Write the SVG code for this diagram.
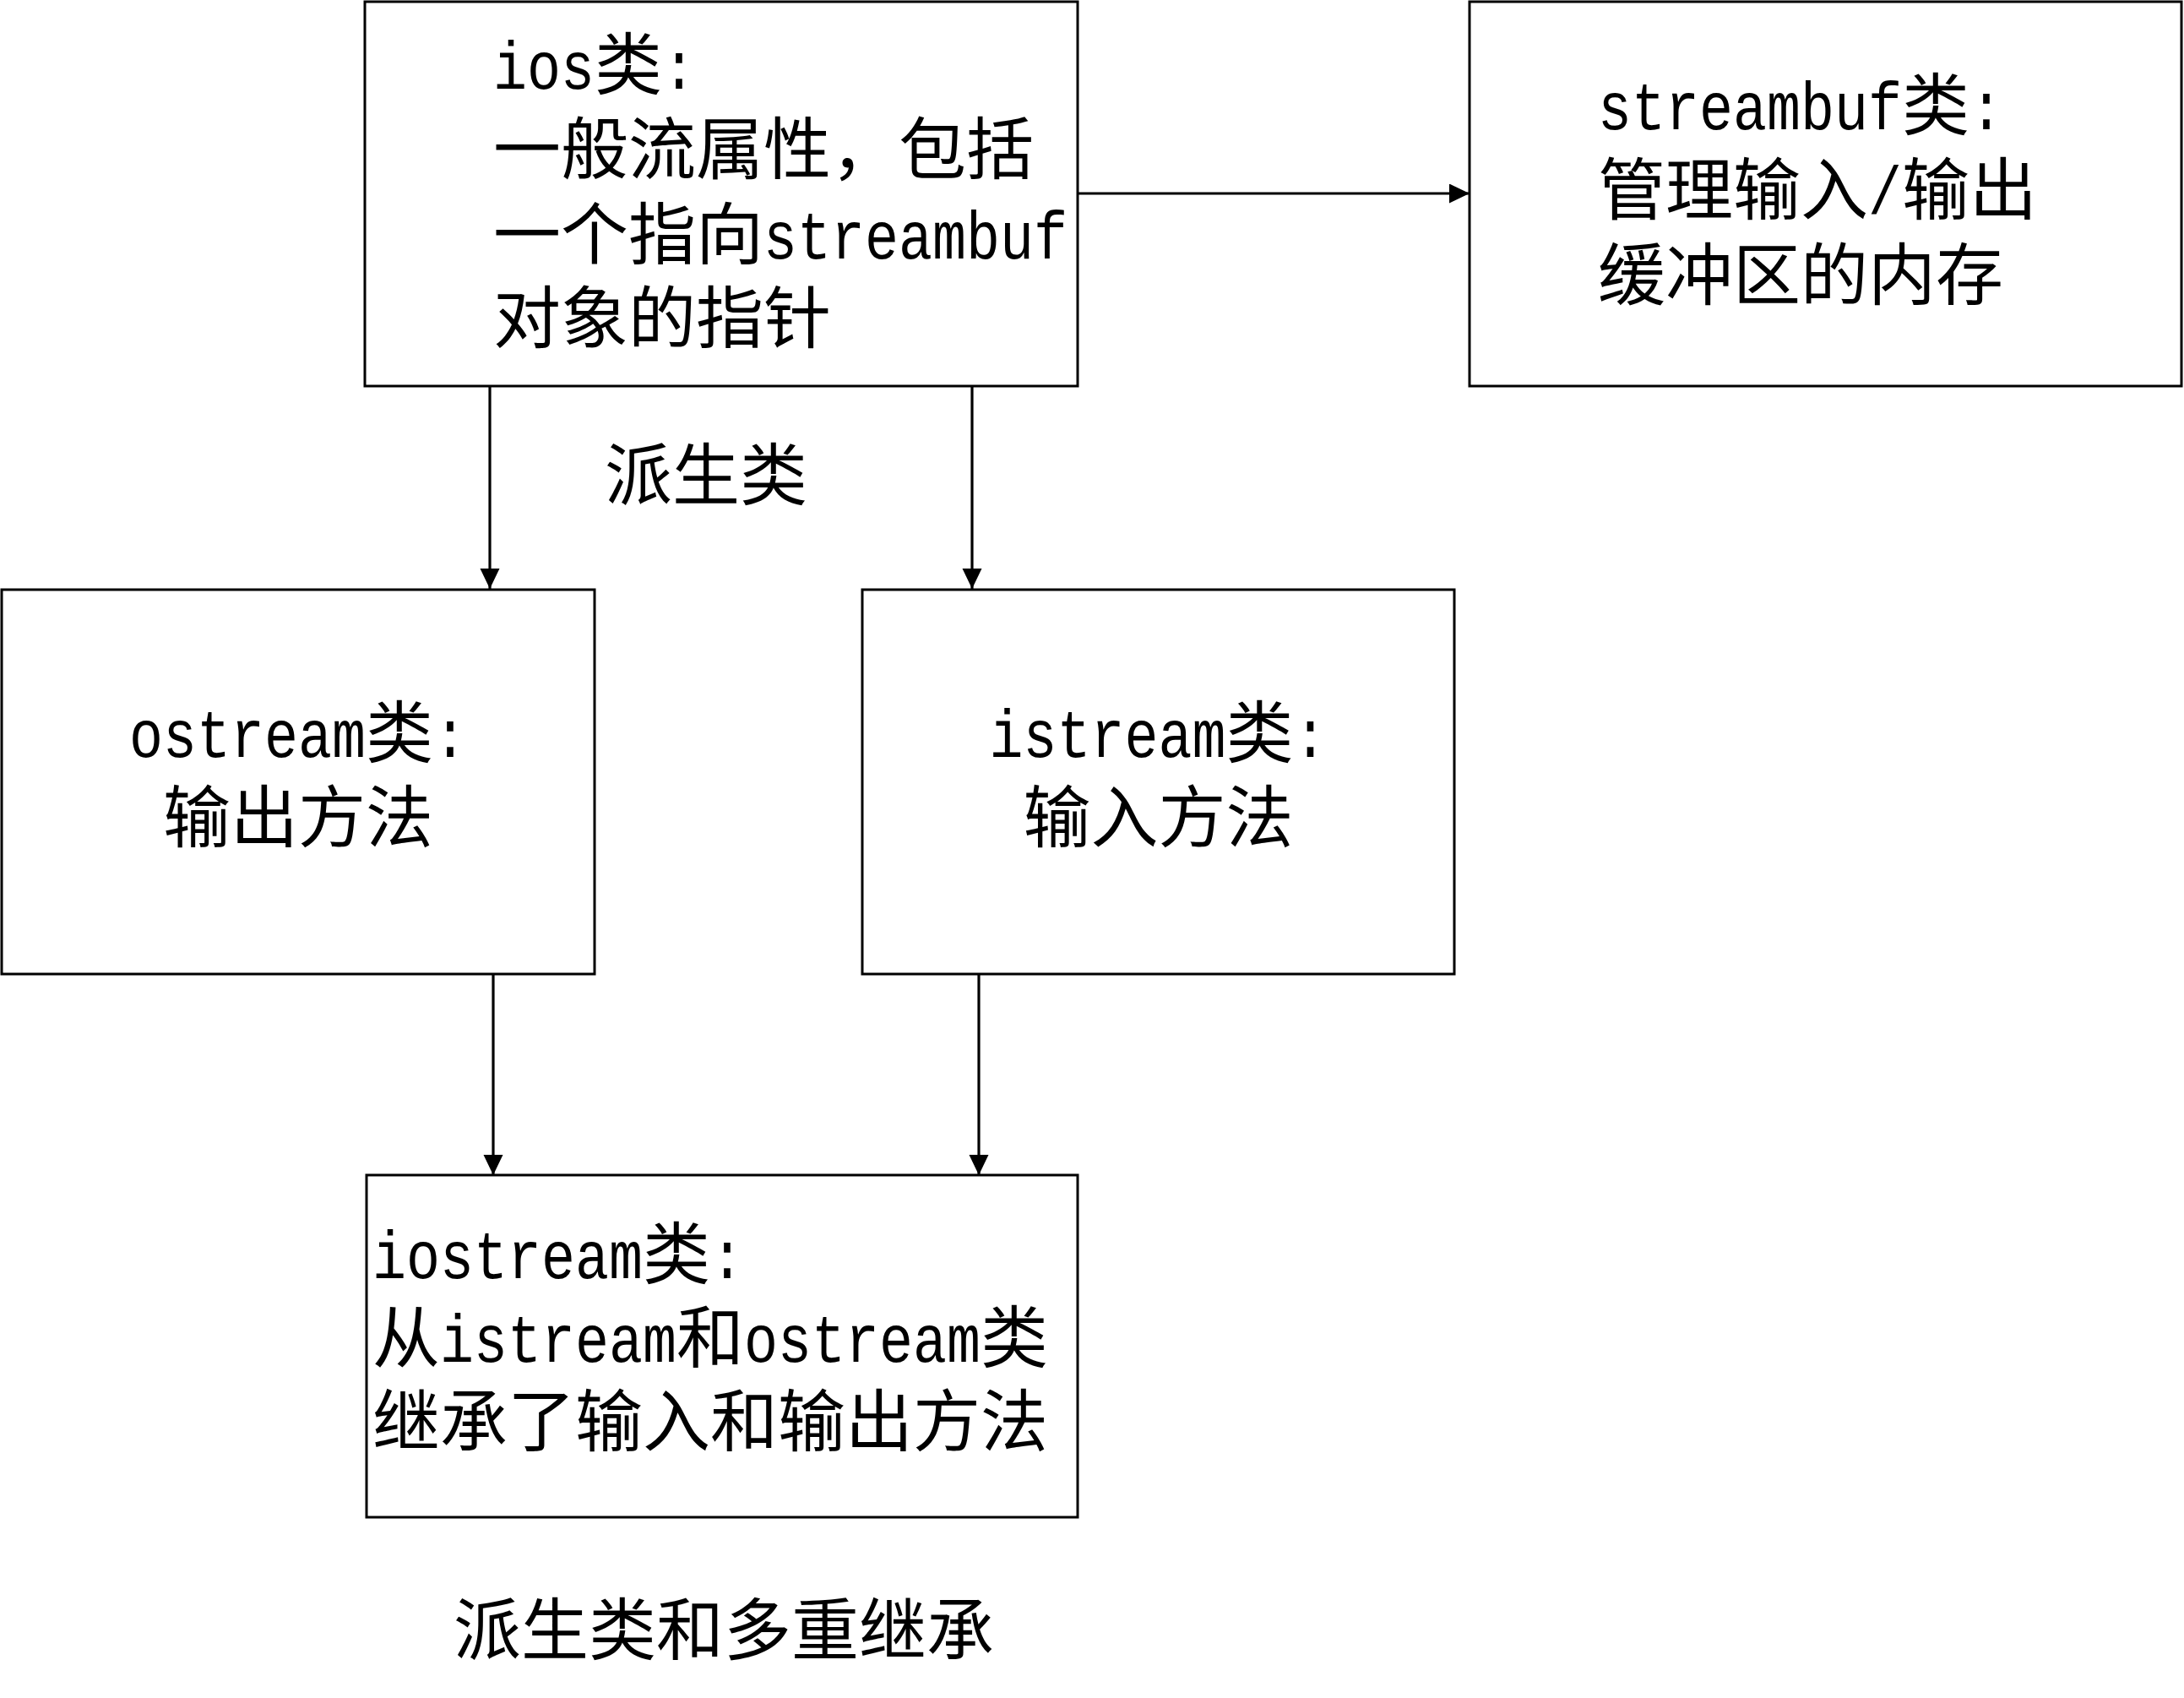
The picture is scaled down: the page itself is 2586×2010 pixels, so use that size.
<svg xmlns="http://www.w3.org/2000/svg" width="2586" height="2010" viewBox="0 0 2586 2010">
<defs>
<style>
.box{fill:#fff;stroke:#000;stroke-width:3}
.t{font-family:"Noto Sans CJK SC","Liberation Serif",sans-serif;font-size:80px;fill:#000}
.la{font-family:"Liberation Mono",monospace}
.ln{stroke:#000;stroke-width:3.2;fill:none}
</style>
<marker id="ah" markerUnits="userSpaceOnUse" markerWidth="24" markerHeight="24" refX="24" refY="11.5" orient="auto">
<path d="M0,0 L24,11.5 L0,23 z" fill="#000"/>
</marker>
</defs>
<rect width="2586" height="2010" fill="#fff"/>

<g id="connectors">
<line class="ln" x1="1276" y1="229" x2="1740" y2="229" marker-end="url(#ah)"/>
<line class="ln" x1="580" y1="457" x2="580" y2="697" marker-end="url(#ah)"/>
<line class="ln" x1="1151" y1="457" x2="1151" y2="697" marker-end="url(#ah)"/>
<line class="ln" x1="584" y1="1153" x2="584" y2="1391" marker-end="url(#ah)"/>
<line class="ln" x1="1159" y1="1153" x2="1159" y2="1391" marker-end="url(#ah)"/>
</g>

<g id="ios">
<rect class="box" x="432" y="2" width="844" height="455"/>
<text class="t" y="105"><tspan class="la" x="584" textLength="120" lengthAdjust="spacingAndGlyphs">ios</tspan><tspan x="704">类</tspan><tspan class="la" x="784" textLength="40" lengthAdjust="spacingAndGlyphs">:</tspan></text>
<text class="t" x="584" y="205">一般流属性，包括</text>
<text class="t" y="306"><tspan x="584">一个指向</tspan><tspan class="la" x="904" textLength="360" lengthAdjust="spacingAndGlyphs">streambuf</tspan></text>
<text class="t" x="584" y="405">对象的指针</text>
</g>

<g id="streambuf">
<rect class="box" x="1740" y="2" width="843" height="455"/>
<text class="t" y="153"><tspan class="la" x="1892" textLength="360" lengthAdjust="spacingAndGlyphs">streambuf</tspan><tspan x="2252">类</tspan><tspan class="la" x="2332" textLength="40" lengthAdjust="spacingAndGlyphs">:</tspan></text>
<text class="t" y="253"><tspan x="1892">管理输入</tspan><tspan class="la" x="2212" textLength="40" lengthAdjust="spacingAndGlyphs">/</tspan><tspan x="2252">输出</tspan></text>
<text class="t" x="1892" y="354">缓冲区的内存</text>
</g>

<g id="ostream">
<rect class="box" x="2" y="698" width="702" height="455"/>
<text class="t" y="896"><tspan class="la" x="153" textLength="280" lengthAdjust="spacingAndGlyphs">ostream</tspan><tspan x="433">类</tspan><tspan class="la" x="513" textLength="40" lengthAdjust="spacingAndGlyphs">:</tspan></text>
<text class="t" x="193" y="996">输出方法</text>
</g>

<g id="istream">
<rect class="box" x="1021" y="698" width="701" height="455"/>
<text class="t" y="896"><tspan class="la" x="1171.5" textLength="280" lengthAdjust="spacingAndGlyphs">istream</tspan><tspan x="1451.5">类</tspan><tspan class="la" x="1531.5" textLength="40" lengthAdjust="spacingAndGlyphs">:</tspan></text>
<text class="t" x="1211.5" y="996">输入方法</text>
</g>

<g id="iostream">
<rect class="box" x="434" y="1391" width="842" height="405"/>
<text class="t" y="1513"><tspan class="la" x="441" textLength="320" lengthAdjust="spacingAndGlyphs">iostream</tspan><tspan x="761">类</tspan><tspan class="la" x="841" textLength="40" lengthAdjust="spacingAndGlyphs">:</tspan></text>
<text class="t" y="1612"><tspan x="441">从</tspan><tspan class="la" x="521" textLength="280" lengthAdjust="spacingAndGlyphs">istream</tspan><tspan x="801">和</tspan><tspan class="la" x="881" textLength="280" lengthAdjust="spacingAndGlyphs">ostream</tspan><tspan x="1161">类</tspan></text>
<text class="t" x="441" y="1711">继承了输入和输出方法</text>
</g>

<g id="label-derived">
<text class="t" x="716" y="591">派生类</text>
</g>

<g id="title">
<text class="t" x="537" y="1958">派生类和多重继承</text>
</g>
</svg>
